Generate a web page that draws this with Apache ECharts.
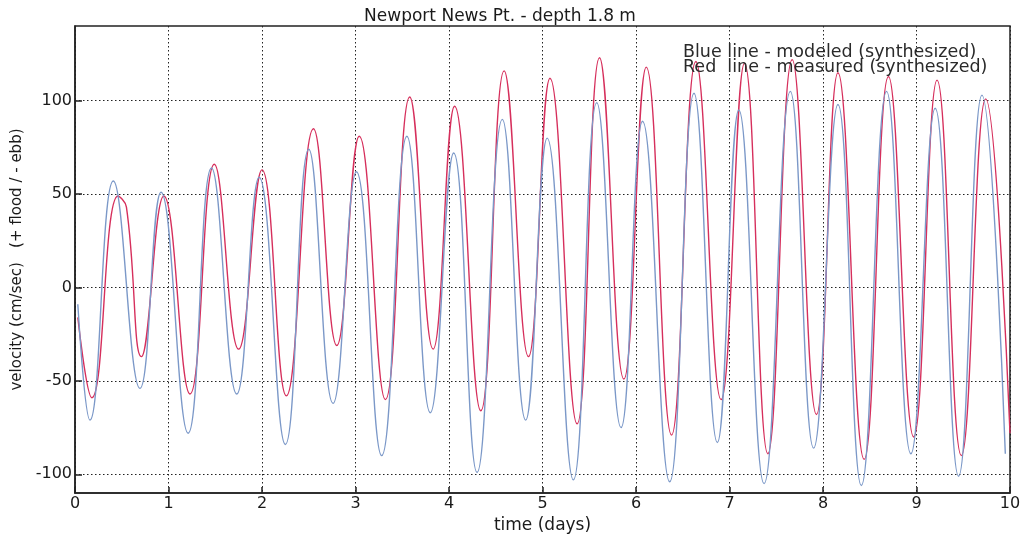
<!DOCTYPE html>
<html>
<head>
<meta charset="utf-8">
<title>Newport News Pt. - depth 1.8 m</title>
<script src="https://cdn.jsdelivr.net/npm/echarts@6/dist/echarts.min.js"></script>
<style>
  html, body { margin: 0; padding: 0; background: #fff; }
  #chart { width: 1020px; height: 535px; }
</style>
</head>
<body>
<div id="chart"></div>
<script>
// values (time in days, velocity in cm/sec)
const modeledTimes = [0.03, 0.16, 0.41, 0.695, 0.92, 1.21, 1.46, 1.73, 1.97, 2.25, 2.50, 2.76, 3.01, 3.28, 3.55, 3.80, 4.05, 4.30, 4.57, 4.82, 5.05, 5.33, 5.58, 5.84, 6.07, 6.36, 6.62, 6.87, 7.10, 7.37, 7.65, 7.90, 8.16, 8.41, 8.68, 8.94, 9.20, 9.45, 9.70, 9.95];
const modeledVelocity = [-9, -71, 57, -54, 51, -78, 64, -57, 59, -84, 74, -62, 62, -90, 81, -67, 72, -99, 90, -71, 80, -103, 99, -75, 89, -104, 104, -83, 95, -105, 105, -86, 98, -106, 105, -89, 96, -101, 103, -89];

const measuredTimes = [0.03, 0.18, 0.46, 0.55, 0.71, 0.95, 1.23, 1.49, 1.75, 2.0, 2.26, 2.55, 2.80, 3.04, 3.32, 3.58, 3.83, 4.06, 4.34, 4.59, 4.85, 5.08, 5.37, 5.61, 5.87, 6.11, 6.38, 6.64, 6.91, 7.16, 7.41, 7.67, 7.93, 8.16, 8.44, 8.70, 8.97, 9.22, 9.48, 9.74, 10.0];
const measuredVelocity = [-16, -59, 49, 43, -37, 49, -57, 66, -33, 63, -58, 85, -31, 81, -60, 102, -33, 97, -66, 116, -37, 112, -73, 123, -49, 118, -79, 121, -60, 120, -89, 122, -68, 115, -92, 113, -80, 111, -90, 101, -78];

const dayTicks = [0, 1, 2, 3, 4, 5, 6, 7, 8, 9, 10];
const velocityTicks = [-100, -50, 0, 50, 100];

const legendLines = [
  "Blue line - modeled (synthesized)",
  "Red  line - measured (synthesized)"
];

const pair = (ts, vs) => ts.map((t, i) => [t, vs[i]]);

const textFont = "'DejaVu Sans', Verdana, sans-serif";
const gridLine = { show: true, lineStyle: { color: "#222", type: [1.5, 2.5], width: 1 } };

var myChart = echarts.init(document.getElementById("chart"));
var option = {
  animation: false,
  backgroundColor: "#fff",
  title: {
    text: "Newport News Pt. - depth 1.8 m",
    left: 495,
    top: 3,
    textAlign: "center",
    textStyle: { fontFamily: textFont, fontSize: 17, fontWeight: "normal", color: "#1a1a1a" }
  },
  grid: {
    left: 75,
    right: 10,
    top: 26,
    bottom: 42,
    outerBoundsMode: "none",
    show: true,
    borderColor: "#222",
    borderWidth: 1.5
  },
  xAxis: {
    type: "value",
    min: 0,
    max: 10,
    interval: 1,
    name: "time (days)",
    nameLocation: "middle",
    nameGap: 22,
    nameTextStyle: { fontFamily: textFont, fontSize: 17, color: "#1a1a1a" },
    axisLine: { onZero: false, lineStyle: { color: "#222", width: 1.5 } },
    axisTick: { inside: true, length: 6, lineStyle: { color: "#222", width: 1.5 } },
    axisLabel: {
      customValues: dayTicks,
      fontFamily: textFont, fontSize: 16, color: "#1a1a1a", margin: 3
    },
    splitLine: gridLine
  },
  yAxis: {
    type: "value",
    min: -110,
    max: 140,
    name: "velocity (cm/sec)   (+ flood / - ebb)",
    nameLocation: "middle",
    nameRotate: 90,
    nameGap: 48,
    nameTextStyle: { fontFamily: textFont, fontSize: 15, color: "#1a1a1a" },
    axisLine: { onZero: false, lineStyle: { color: "#222", width: 1.5 } },
    axisTick: { inside: true, length: 7, customValues: velocityTicks, lineStyle: { color: "#222", width: 1.5 } },
    axisLabel: {
      customValues: velocityTicks,
      fontFamily: textFont, fontSize: 16, color: "#1a1a1a", margin: 3
    },
    splitLine: gridLine
  },
  graphic: legendLines.map((txt, i) => ({
    type: "text",
    left: 683,
    top: 43 + i * 15,
    style: { text: txt, fontFamily: textFont, fontSize: 17.5, fill: "#2a2a2a" },
    z: 10
  })),
  series: [
    {
      name: "measured",
      type: "line",
      data: pair(measuredTimes, measuredVelocity),
      smooth: 0.45,
      showSymbol: false,
      lineStyle: { color: "#d62f5c", width: 1.4 }
    },
    {
      name: "modeled",
      type: "line",
      data: pair(modeledTimes, modeledVelocity),
      smooth: 0.45,
      showSymbol: false,
      lineStyle: { color: "#7b98c8", width: 1.4 }
    }
  ]
};
option && myChart.setOption(option);
</script>
</body>
</html>
